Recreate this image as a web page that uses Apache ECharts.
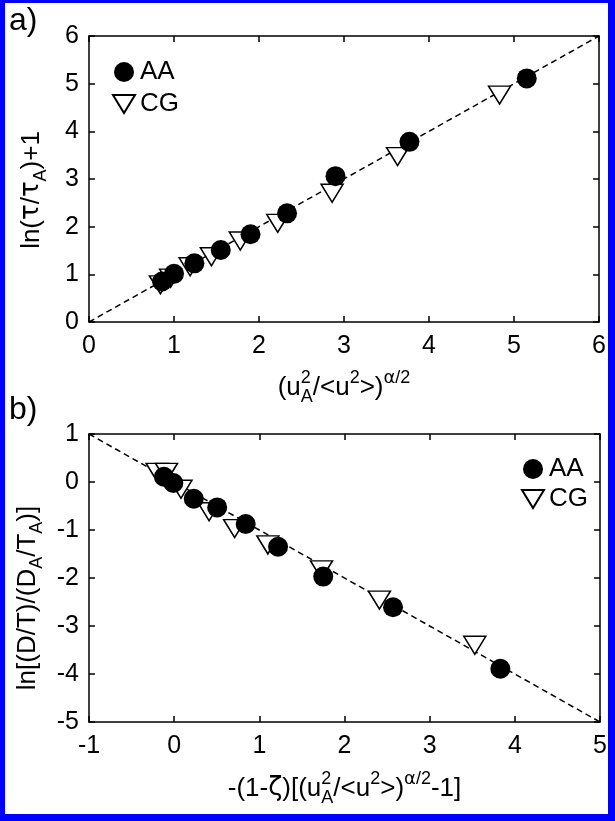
<!DOCTYPE html>
<html><head><meta charset="utf-8">
<script src="https://cdn.jsdelivr.net/npm/echarts@6/dist/echarts.min.js"></script>
<style>html,body{margin:0;padding:0;background:#fff}#c{width:615px;height:821px}</style>
</head><body><div id="c"></div>
<script>
// ---- data ----
const aAA = [[0.86,0.85],[1.00,1.01],[1.24,1.23],[1.55,1.51],[1.90,1.84],[2.33,2.28],[2.90,3.06],[3.77,3.78],[5.15,5.11]];
const aCG = [[0.84,0.78],[0.96,0.92],[1.19,1.16],[1.44,1.37],[1.78,1.70],[2.22,2.07],[2.86,2.70],[3.63,3.47],[4.83,4.76]];
const aFit = [[0,0],[6,6]];
const bAA = [[-0.12,0.11],[-0.01,-0.02],[0.23,-0.35],[0.505,-0.53],[0.84,-0.875],[1.22,-1.35],[1.75,-1.97],[2.57,-2.61],[3.83,-3.89]];
const bCG = [[-0.2,0.2],[-0.09,0.2],[0.08,-0.15],[0.41,-0.62],[0.71,-0.97],[1.10,-1.31],[1.73,-1.83],[2.41,-2.46],[3.53,-3.40]];
const bFit = [[-1,1],[5,-5]];
const aXRange = [0,6], aYRange = [0,6];
const bXRange = [-1,5], bYRange = [-5,1];

const FONT = 'Liberation Sans, Arial, sans-serif';
const tri = 'path://M0,0 L22,0 L11,18 Z';
const MS = 26, SS = 18, SH = 19;
const rich = {
  n:  {fontSize: MS, fontFamily: FONT, color:'#000', align:'left'},
  sb: {fontSize: SS, fontFamily: FONT, color:'#000', align:'left', padding:[SH,0,0,0]},
  sp: {fontSize: SS, fontFamily: FONT, color:'#000', align:'left', padding:[0,0,SH,0]},
  sp0:{fontSize: SS, fontFamily: FONT, color:'#000', align:'left', padding:[0,0,SH,0], width:0},
  g:  {fontSize: MS, fontFamily: 'DejaVu Sans, sans-serif', color:'#000', align:'left'},
  gs: {fontSize: SS, fontFamily: 'DejaVu Sans, sans-serif', color:'#000', align:'left', padding:[0,0,SH,0]}
};
const axA_x = '{n|(u}{sp0|2}{sb|A}{n|/<u}{sp|2}{n|>)}{gs|α}{sp|/2}';
const axA_y = '{n|ln(}{g|τ}{n|/}{g|τ}{sb|A}{n|)+1}';
const axB_x = '{n|-(1-}{g|ζ}{n|)[(u}{sp0|2}{sb|A}{n|/<u}{sp|2}{n|>)}{gs|α}{sp|/2}{n|-1]}';
const axB_y = '{n|ln[(D/T)/(D}{sb|A}{n|/T}{sb|A}{n|)]}';

function mainX(gi, r, name, gap, pad){
  return {type:'value', gridIndex:gi, min:r[0], max:r[1], interval:1, position:'bottom',
    axisLine:{show:true, onZero:false, lineStyle:{color:'#000', width:1.5}},
    axisTick:{show:true, inside:true, length:6, lineStyle:{color:'#000', width:1.5}},
    axisLabel:{show:true, color:'#000', fontSize:25, fontFamily:FONT, margin:12},
    splitLine:{show:false},
    name:name, nameLocation:'middle', nameGap:gap, nameTextStyle:{rich:rich, padding:pad}};
}
function mainY(gi, r, name, gap, pad){
  return {type:'value', gridIndex:gi, min:r[0], max:r[1], interval:1, position:'left',
    axisLine:{show:true, onZero:false, lineStyle:{color:'#000', width:1.5}},
    axisTick:{show:true, inside:true, length:6, lineStyle:{color:'#000', width:1.5}},
    axisLabel:{show:true, color:'#000', fontSize:25, fontFamily:FONT, margin:10},
    splitLine:{show:false},
    name:name, nameLocation:'middle', nameGap:gap, nameRotate:90, nameTextStyle:{rich:rich, padding:pad}};
}
function sideX(gi, r){
  return {type:'value', gridIndex:gi, min:r[0], max:r[1], interval:1, position:'top',
    axisLine:{show:true, onZero:false, lineStyle:{color:'#000', width:1.5}},
    axisTick:{show:true, inside:true, length:6, lineStyle:{color:'#000', width:1.5}},
    axisLabel:{show:false}, splitLine:{show:false}};
}
function sideY(gi, r){
  return {type:'value', gridIndex:gi, min:r[0], max:r[1], interval:1, position:'right',
    axisLine:{show:true, onZero:false, lineStyle:{color:'#000', width:1.5}},
    axisTick:{show:true, inside:true, length:6, lineStyle:{color:'#000', width:1.5}},
    axisLabel:{show:false}, splitLine:{show:false}};
}
function fit(xi, yi, d){
  return {type:'line', xAxisIndex:xi, yAxisIndex:yi, data:d, symbol:'none', silent:true,
    lineStyle:{color:'#000', width:1.5, type:[6,4]}, z:1};
}
function cg(xi, yi, d){
  return {name:'CG', type:'scatter', xAxisIndex:xi, yAxisIndex:yi, data:d, symbol:tri, symbolSize:[22,18],
    itemStyle:{color:'#fff', borderColor:'#000', borderWidth:1.5, opacity:1}, z:2};
}
function aa(xi, yi, d){
  return {name:'AA', type:'scatter', xAxisIndex:xi, yAxisIndex:yi, data:d, symbol:'circle', symbolSize:20,
    itemStyle:{color:'#000', opacity:1}, z:3};
}
const legendBase = {orient:'vertical', data:['AA','CG'], itemWidth:22, itemHeight:20, selectedMode:false,
  textStyle:{fontSize:26, fontFamily:FONT, color:'#000'}};

const chart = echarts.init(document.getElementById('c'), null, {renderer:'canvas'});
chart.setOption({
  backgroundColor:'#fff',
  animation:false,
  grid:[
    {left:89, top:36, width:510, height:286},
    {left:89, top:434, width:511, height:288}
  ],
  xAxis:[mainX(0,aXRange,axA_x,47,[0,0,0,0]), sideX(0,aXRange), mainX(1,bXRange,axB_x,48,[0,0,0,0]), sideX(1,bXRange)],
  yAxis:[mainY(0,aYRange,axA_y,39,[0,22,0,0]), sideY(0,aYRange), mainY(1,bYRange,axB_y,38,[0,40,0,0]), sideY(1,bYRange)],
  legend:[
    Object.assign({}, legendBase, {left:107, top:54, itemGap:6}),
    Object.assign({}, legendBase, {left:516, top:451, itemGap:4})
  ],
  series:[
    fit(0,0,aFit), cg(0,0,aCG), aa(0,0,aAA),
    fit(2,2,bFit), cg(2,2,bCG), aa(2,2,bAA)
  ],
  graphic:[
    {type:'text', left:9, top:5, style:{text:'a)', font:'32px '+FONT, fill:'#000'}},
    {type:'text', left:9, top:394, style:{text:'b)', font:'32px '+FONT, fill:'#000'}},
    {type:'rect', shape:{x:0,y:0,width:5,height:821}, style:{fill:'#0000ff'}},
    {type:'rect', shape:{x:0,y:0,width:615,height:3}, style:{fill:'#0000ff'}},
    {type:'rect', shape:{x:608,y:0,width:7,height:821}, style:{fill:'#0000ff'}},
    {type:'rect', shape:{x:0,y:814,width:615,height:7}, style:{fill:'#0000ff'}}
  ]
});
</script></body></html>
